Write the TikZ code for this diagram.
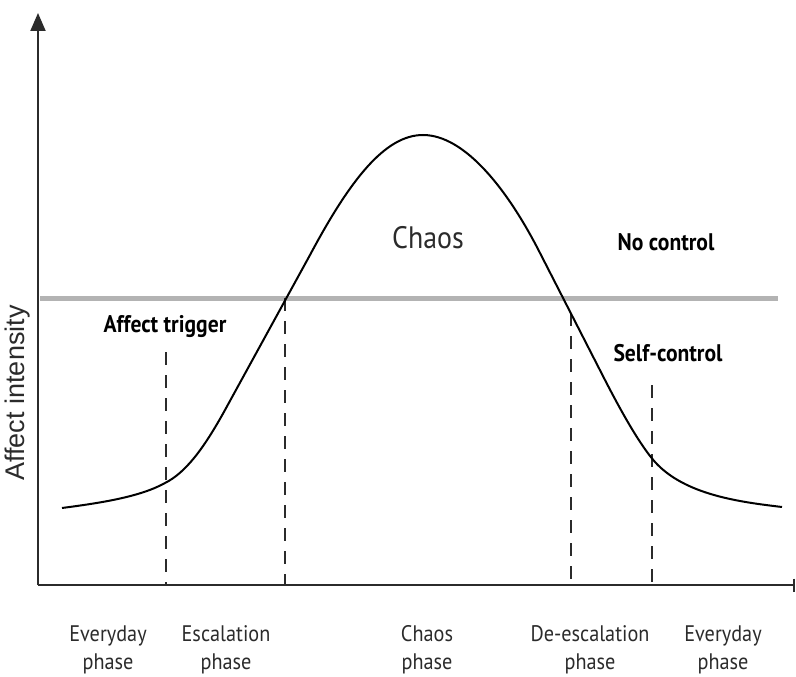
\documentclass[tikz,border=0pt]{standalone}
\usepackage{fontspec}
\usetikzlibrary{arrows.meta}
\newfontfamily\phasefont[FakeStretch=0.9]{PT Sans}
\newfontfamily\axisfont{Liberation Sans}
\definecolor{inkgray}{HTML}{2B2B2B}
\definecolor{limitgray}{HTML}{B3B3B3}
\tikzset{
  axisline/.style={line width=2pt, inkgray},
  phaseline/.style={line width=1.5pt, inkgray, dash pattern=on 13pt off 10pt},
  phaselabel/.style={align=center, text=inkgray, font=\phasefont\fontsize{22.5}{28}\selectfont},
  zonelabel/.style={text=black, font=\phasefont\bfseries\fontsize{24}{28}\selectfont}
}

\begin{document}
\begin{tikzpicture}[x=1pt, y=-1pt]
    \useasboundingbox (0,0) rectangle (796,677);

    % 1. Axes
    \coordinate (origin) at (38,585);
    \coordinate (ytop) at (38,13);
    \coordinate (xend) at (795,585);
    \draw[axisline, -{Triangle[width=15pt,length=18pt]}] (origin) -- (ytop);
    \draw[axisline, -{Bar[width=13pt]}] (origin) -- (xend);
    \node[rotate=90, text=inkgray, font=\axisfont\fontsize{27}{30}\selectfont] (yname) at (18,393) {Affect intensity};

    % 2. Control limit
    \coordinate (limitL) at (40,298);
    \coordinate (limitR) at (778,298);
    \draw[line width=5pt, limitgray] (limitL) -- (limitR);

    % 3. Phase borders
    \foreach \px/\ptop [count=\i] in {166/352, 285/298, 571/313, 652/385} {
        \coordinate (b\i top) at (\px,\ptop);
        \coordinate (b\i bot) at (\px,585);
        \draw[phaseline] (b\i top) -- (b\i bot);
    }

    % 4. Affect curve
    \draw[line width=2pt, black]
        (62,508) .. controls (100,503) and (140,497) .. (165,483)
        .. controls (185,473) and (203,450) .. (225,410)
        -- (310,255)
        .. controls (350,180) and (385,135) .. (423,135)
        .. controls (465,135) and (508,190) .. (540,253)
        -- (605,380)
        .. controls (622,413) and (640,445) .. (655,462)
        .. controls (685,495) and (740,502) .. (782,507);

    % 5. Zone texts
    \node[text=inkgray, font=\phasefont\fontsize{31}{34}\selectfont] (chaos) at (428,238) {Chaos};
    \node[zonelabel] (nocontrol) at (666,242) {No control};
    \node[zonelabel] (selfcontrol) at (668,353) {Self-control};
    \node[zonelabel] (trigger) at (165,327) {Affect trigger};

    % 6. Phase names
    \node[phaselabel] (everyday1) at (108,650) {Everyday\\phase};
    \node[phaselabel] (escalation) at (226,650) {Escalation\\phase};
    \node[phaselabel] (chaosphase) at (427,650) {Chaos\\phase};
    \node[phaselabel] (deescalation) at (590,650) {De-escalation\\phase};
    \node[phaselabel] (everyday2) at (723,650) {Everyday\\phase};
\end{tikzpicture}
\end{document}
